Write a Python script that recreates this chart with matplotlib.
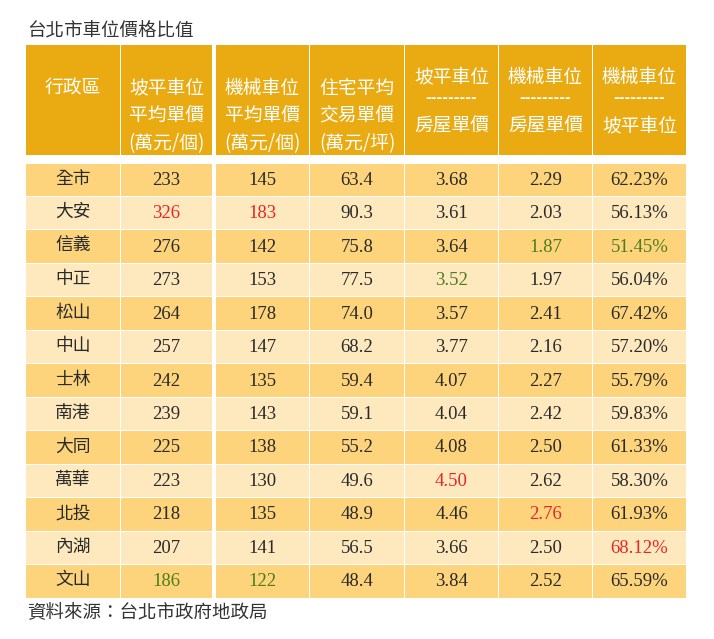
import matplotlib
matplotlib.use("Agg")
import matplotlib.pyplot as plt
from matplotlib.patches import Rectangle

plt.rcParams['font.family'] = ['Noto Sans CJK TC', 'DejaVu Sans']

title = "台北市車位價格比值"
source = "資料來源：台北市政府地政局"

headers = [
    ["行政區"],
    ["坡平車位", "平均單價", "(萬元/個)"],
    ["機械車位", "平均單價", "(萬元/個)"],
    ["住宅平均", "交易單價", "(萬元/坪)"],
    ["坡平車位", "---------", "房屋單價"],
    ["機械車位", "---------", "房屋單價"],
    ["機械車位", "---------", "坡平車位"],
]

districts = ["全市", "大安", "信義", "中正", "松山", "中山", "士林", "南港",
             "大同", "萬華", "北投", "內湖", "文山"]
flat_price = [233, 326, 276, 273, 264, 257, 242, 239, 225, 223, 218, 207, 186]
mech_price = [145, 183, 142, 153, 178, 147, 135, 143, 138, 130, 135, 141, 122]
house_price = [63.4, 90.3, 75.8, 77.5, 74.0, 68.2, 59.4, 59.1, 55.2, 49.6, 48.9, 56.5, 48.4]
flat_ratio = [3.68, 3.61, 3.64, 3.52, 3.57, 3.77, 4.07, 4.04, 4.08, 4.50, 4.46, 3.66, 3.84]
mech_ratio = [2.29, 2.03, 1.87, 1.97, 2.41, 2.16, 2.27, 2.42, 2.50, 2.62, 2.76, 2.50, 2.52]
mech_flat_pct = [62.23, 56.13, 51.45, 56.04, 67.42, 57.20, 55.79, 59.83, 61.33, 58.30, 61.93, 68.12, 65.59]

# highlighted cells: (row, col) -> 'r' (max) or 'g' (min)
highlights = {(1, 1): 'r', (1, 2): 'r', (2, 5): 'g', (2, 6): 'g', (3, 4): 'g',
              (9, 4): 'r', (10, 5): 'r', (11, 6): 'r', (12, 1): 'g', (12, 2): 'g'}

HEADER_C = '#EAAB12'
DARK_C = '#FDD47C'
LIGHT_C = '#FEE9BF'
RED = '#E8262A'
GREEN = '#4E7D1C'
TXT = '#2a2a2a'

W, H = 714, 639
fig = plt.figure(figsize=(W / 100, H / 100), dpi=100)
ax = fig.add_axes([0, 0, 1, 1])
ax.set_xlim(0, W)
ax.set_ylim(H, 0)
ax.axis('off')

col_edges = [(26, 120), (121, 212), (216, 309), (310, 404), (405, 498), (499, 592), (593, 686)]
hdr_top, hdr_bot = 45, 155
body_top, body_bot = 163, 598
nrows = len(districts)
rh = (body_bot - body_top) / nrows

ax.text(27, 30, title, fontsize=13.3, color='#333333', va='center', ha='left')

HF = 13.5
# header
for (x0, x1), lines in zip(col_edges, headers):
    ax.add_patch(Rectangle((x0, hdr_top), x1 - x0, hdr_bot - hdr_top, color=HEADER_C, lw=0))
    cx = (x0 + x1) / 2
    if len(lines) == 1:
        ax.text(cx, 88, lines[0], fontsize=HF, color='white', ha='center', va='center')
    elif lines[1].startswith('-'):
        ax.text(cx, 77, lines[0], fontsize=HF, color='white', ha='center', va='center')
        ax.text(cx, 98, lines[1], fontsize=10, color='white', ha='center', va='center',
                family='DejaVu Sans', fontweight='bold')
        ax.text(cx, 126, lines[2], fontsize=HF, color='white', ha='center', va='center')
    else:
        for yy, s in zip([88, 116, 144], lines):
            ax.text(cx, yy, s, fontsize=HF, color='white', ha='center', va='center')

# body
for i in range(nrows):
    y0 = body_top + i * rh
    fc = DARK_C if i % 2 == 0 else LIGHT_C
    vals = [districts[i], f"{flat_price[i]}", f"{mech_price[i]}", f"{house_price[i]:.1f}",
            f"{flat_ratio[i]:.2f}", f"{mech_ratio[i]:.2f}", f"{mech_flat_pct[i]:.2f}%"]
    for j, ((x0, x1), s) in enumerate(zip(col_edges, vals)):
        ax.add_patch(Rectangle((x0, y0 + 0.5), x1 - x0, rh - 1, color=fc, lw=0))
        c = TXT
        h = highlights.get((i, j))
        if h == 'r':
            c = RED
        elif h == 'g':
            c = GREEN
        cx = (x0 + x1) / 2
        cy = y0 + rh / 2
        if j == 0:
            ax.text(cx, cy - 1, s, fontsize=12.8, color=TXT, ha='center', va='center')
        else:
            ax.text(cx, cy + 0.5, s, fontsize=13.5, color=c, ha='center', va='center',
                    family='Liberation Serif')

ax.text(27, 612, source, fontsize=13.3, color='#333333', va='center', ha='left')

fig.savefig('out.png', dpi=100, facecolor='white')
